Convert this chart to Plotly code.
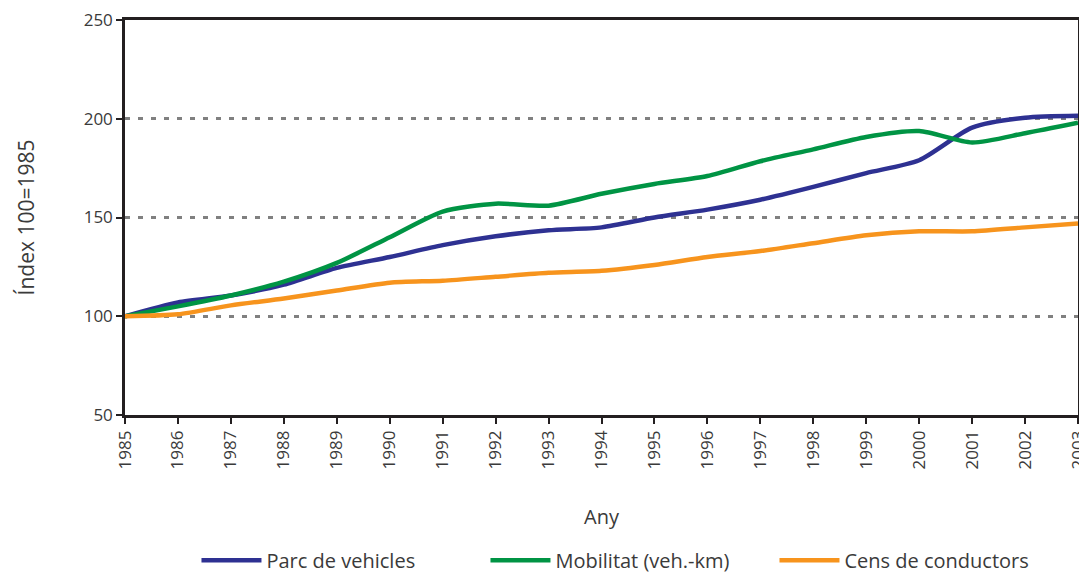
import plotly.graph_objects as go

years = list(range(1985, 2004))
parc_vehicles = [100, 107, 110.5, 116, 124.5, 130, 136, 140.5, 143.5, 145, 150, 154, 159, 165.5, 172.5, 179, 195.5, 200.5, 201.5]
mobilitat = [100, 105, 110.5, 117.5, 127, 140, 153, 157, 156, 162, 167, 171, 178.5, 184.5, 190.8, 193.8, 188, 192.7, 198]
cens_conductors = [100, 101, 105.5, 109, 113, 117, 118, 120, 122, 123, 126, 130, 133, 137, 141, 143, 143, 145, 147]

series_names = ["Parc de vehicles", "Mobilitat (veh.-km)", "Cens de conductors"]
series_colors = ["#2e3192", "#009444", "#f7941d"]
series_values = [parc_vehicles, mobilitat, cens_conductors]

y_ticks = [50, 100, 150, 200, 250]

fig = go.Figure()
for name, color, vals in zip(series_names, series_colors, series_values):
    fig.add_trace(go.Scatter(
        x=years, y=vals, mode="lines", name=name,
        line=dict(color=color, width=4.5, shape="spline", smoothing=0.7),
    ))

font_family = "Open Sans, Noto Sans, sans-serif"
text_color = "#3a3a3a"
fig.update_layout(
    width=1087, height=574,
    margin=dict(l=117, r=17, t=12, b=167, autoexpand=False),
    plot_bgcolor="white", paper_bgcolor="white",
    font=dict(family=font_family, color=text_color, size=16),
    showlegend=True,
    legend=dict(orientation="h", x=0.075, xanchor="left", y=-0.368, yanchor="middle",
                font=dict(size=20, color=text_color), traceorder="normal",
                itemwidth=60, entrywidth=214, entrywidthmode="pixels",
                bgcolor="rgba(0,0,0,0)"),
    xaxis=dict(
        range=[1985, 2003], tickmode="array", tickvals=years,
        ticktext=[str(y) for y in years], tickangle=-90,
        showline=True, linecolor="#231f20", linewidth=2.5, mirror=True,
        ticks="outside", ticklen=6, tickwidth=2, tickcolor="#231f20",
        showgrid=False, zeroline=False, automargin=False,
        ticklabeloverflow="allow",
        tickfont=dict(size=17, color=text_color),
        title=dict(text="Any", font=dict(size=20, color=text_color), standoff=42),
    ),
    yaxis=dict(
        range=[50, 250], tickmode="array", tickvals=y_ticks,
        showline=True, linecolor="#231f20", linewidth=2.5, mirror=True,
        ticks="outside", ticklen=6, tickwidth=2, tickcolor="#231f20",
        showgrid=True, gridcolor="#808080", gridwidth=3, griddash="5px,8px",
        zeroline=False, automargin=False,
        ticklabeloverflow="allow",
        tickfont=dict(size=17, color=text_color),
        title=dict(text="Índex 100=1985", font=dict(size=21, color=text_color), standoff=44),
    ),
)

fig.write_html("out.html")
